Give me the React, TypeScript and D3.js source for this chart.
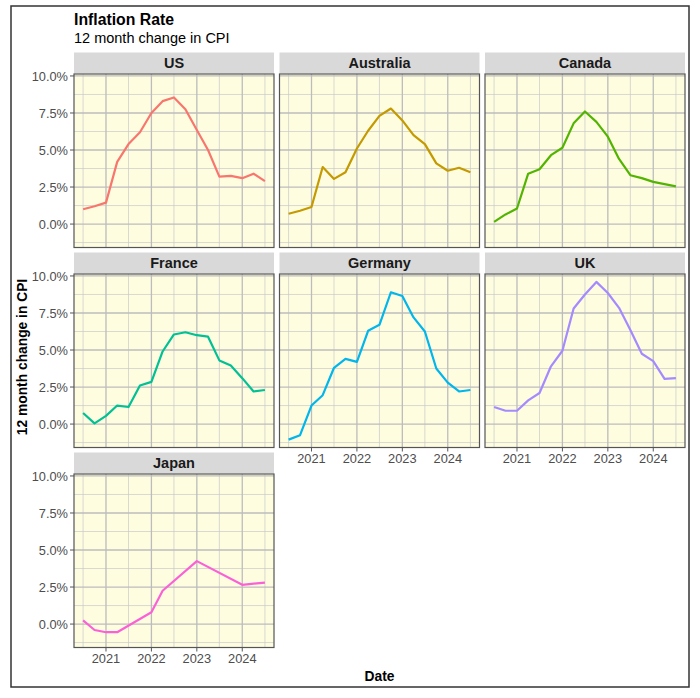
import React from "react";
import * as d3 from "d3";

// ---- Data (quarterly 12-month CPI change, %) ----
const countries = ["US", "Australia", "Canada", "France", "Germany", "UK", "Japan"];
const colors = ["#F8766D", "#C49A00", "#53B400", "#00C094", "#00B6EB", "#A58AFF", "#FB61D7"];

const quarterDates = [
  "2020-07-01", "2020-10-01", "2021-01-01", "2021-04-01", "2021-07-01", "2021-10-01",
  "2022-01-01", "2022-04-01", "2022-07-01", "2022-10-01", "2023-01-01", "2023-04-01",
  "2023-07-01", "2023-10-01", "2024-01-01", "2024-04-01", "2024-07-01",
];
const japanDates = [
  "2020-07-01", "2020-10-01", "2021-01-01", "2021-04-01", "2022-01-01", "2022-04-01",
  "2023-01-01", "2024-01-01", "2024-07-01",
];

const usValues = [1.0, 1.2, 1.45, 4.2, 5.4, 6.2, 7.5, 8.3, 8.55, 7.75, 6.35, 5.0, 3.2, 3.25, 3.1, 3.4, 2.9];
const australiaValues = [0.7, 0.9, 1.15, 3.85, 3.05, 3.5, 5.1, 6.3, 7.3, 7.8, 7.0, 6.0, 5.4, 4.1, 3.6, 3.8, 3.5];
const canadaValues = [0.15, 0.65, 1.05, 3.4, 3.7, 4.65, 5.15, 6.8, 7.6, 6.9, 5.9, 4.4, 3.3, 3.1, 2.85, 2.7, 2.55];
const franceValues = [0.75, 0.05, 0.55, 1.25, 1.15, 2.6, 2.85, 4.9, 6.05, 6.2, 6.0, 5.9, 4.3, 3.95, 3.1, 2.2, 2.3];
const germanyValues = [-1.05, -0.75, 1.25, 1.95, 3.8, 4.4, 4.2, 6.3, 6.7, 8.9, 8.65, 7.2, 6.25, 3.75, 2.8, 2.2, 2.3];
const ukValues = [1.15, 0.9, 0.9, 1.6, 2.1, 3.9, 4.95, 7.8, 8.75, 9.6, 8.85, 7.85, 6.35, 4.75, 4.25, 3.05, 3.1];
const japanValues = [0.25, -0.4, -0.55, -0.55, 0.8, 2.25, 4.25, 2.65, 2.8];

const yTickValues = [0, 2.5, 5, 7.5, 10];
const yTickLabels = ["0.0%", "2.5%", "5.0%", "7.5%", "10.0%"];
const xTickYears = [2021, 2022, 2023, 2024];

const titleText = "Inflation Rate";
const subtitleText = "12 month change in CPI";
const yAxisTitle = "12 month change in CPI";
const xAxisTitle = "Date";

const seriesValues = [usValues, australiaValues, canadaValues, franceValues, germanyValues, ukValues, japanValues];
const seriesDates = [quarterDates, quarterDates, quarterDates, quarterDates, quarterDates, quarterDates, japanDates];

// ---- Layout ----
const W = 700;
const H = 698;
const colX = [74, 279.5, 485];
const rowY = [74, 274, 474];
const PW = 200;
const PH = 173.5;
const STRIP_H = 21;
const FONT = "'Liberation Sans', Arial, Helvetica, sans-serif";

export default function App() {
  const parse = d3.timeParse("%Y-%m-%d");
  const allDates = quarterDates.map((d) => parse(d) as Date);
  const dMin = d3.min(allDates) as Date;
  const dMax = d3.max(allDates) as Date;
  const span = dMax.getTime() - dMin.getTime();
  const xDomain = [new Date(dMin.getTime() - 0.05 * span), new Date(dMax.getTime() + 0.05 * span)];

  const allVals = seriesValues.flat();
  const vMin = d3.min(allVals) as number;
  const vMax = d3.max(allVals) as number;
  const vSpan = vMax - vMin;
  const yDomain = [vMin - 0.05 * vSpan, vMax + 0.05 * vSpan];

  const x = d3.scaleTime().domain(xDomain).range([0, PW]);
  const y = d3.scaleLinear().domain(yDomain).range([PH, 0]);

  const majorX = xTickYears.map((yr) => new Date(yr, 0, 1));
  const minorX = [2020, 2021, 2022, 2023, 2024].map((yr) => new Date(yr, 6, 1)).filter((d) => x(d) >= 0 && x(d) <= PW);
  const minorY = yTickValues.slice(0, -1).map((v, i) => (v + yTickValues[i + 1]) / 2).concat([yTickValues[0] - 1.25]).filter((v) => y(v) >= 0 && y(v) <= PH);

  const line = d3
    .line<[Date, number]>()
    .x((d) => x(d[0]))
    .y((d) => y(d[1]));

  const panels = countries.map((c, i) => {
    const col = i % 3;
    const row = Math.floor(i / 3);
    const px = colX[col];
    const py = rowY[row];
    const data: [Date, number][] = seriesDates[i].map((d, j) => [parse(d) as Date, seriesValues[i][j]]);
    const showY = col === 0;
    // x labels shown if no panel beneath
    const showX = i + 3 >= countries.length;
    return (
      <g key={c} transform={`translate(${px},${py})`}>
        <rect x={0} y={-STRIP_H - 0.5} width={PW} height={STRIP_H} fill="#d9d9d9" />
        <text x={PW / 2} y={-STRIP_H / 2 - 0.5} dy="0.36em" textAnchor="middle" fontFamily={FONT} fontWeight="bold" fontSize={14.5} fill="#1a1a1a">
          {c}
        </text>
        <rect x={0} y={0} width={PW} height={PH} fill="#fefde0" />
        {minorX.map((d, k) => (
          <line key={"mx" + k} x1={x(d)} x2={x(d)} y1={0} y2={PH} stroke="#c8c8c8" strokeWidth={0.7} />
        ))}
        {minorY.map((v, k) => (
          <line key={"my" + k} x1={0} x2={PW} y1={y(v)} y2={y(v)} stroke="#c8c8c8" strokeWidth={0.7} />
        ))}
        {majorX.map((d, k) => (
          <line key={"Mx" + k} x1={x(d)} x2={x(d)} y1={0} y2={PH} stroke="#bcbcbc" strokeWidth={1.3} />
        ))}
        {yTickValues.map((v, k) => (
          <line key={"My" + k} x1={0} x2={PW} y1={y(v)} y2={y(v)} stroke="#bcbcbc" strokeWidth={1.3} />
        ))}
        <path d={line(data) || ""} fill="none" stroke={colors[i]} strokeWidth={2.2} strokeLinejoin="round" />
        <rect x={0} y={0} width={PW} height={PH} fill="none" stroke="#555" strokeWidth={1.2} />
        {showY &&
          yTickValues.map((v, k) => (
            <g key={"yt" + k} transform={`translate(0,${y(v)})`}>
              <line x1={-4} x2={0} stroke="#555" strokeWidth={1} />
              <text x={-6} dy="0.36em" textAnchor="end" fontFamily={FONT} fontSize={12.8} fill="#4d4d4d">
                {yTickLabels[k]}
              </text>
            </g>
          ))}
        {showX &&
          majorX.map((d, k) => (
            <g key={"xt" + k} transform={`translate(${x(d)},${PH})`}>
              <line y1={0} y2={4} stroke="#555" strokeWidth={1} />
              <text y={15.5} textAnchor="middle" fontFamily={FONT} fontSize={12.8} fill="#4d4d4d">
                {xTickYears[k]}
              </text>
            </g>
          ))}
      </g>
    );
  });

  return (
    <svg width={W} height={H} style={{ position: "absolute", left: 0, top: 0, background: "#fff" }}>
      <rect x={0} y={0} width={W} height={H} fill="#fff" />
      <rect x={11} y={6} width={678} height={681} fill="none" stroke="#333" strokeWidth={1.5} />
      <text x={74} y={24.5} fontFamily={FONT} fontWeight="bold" fontSize={15.8} fill="#000">
        {titleText}
      </text>
      <text x={74} y={43} fontFamily={FONT} fontSize={14.5} fill="#000">
        {subtitleText}
      </text>
      {panels}
      <text
        transform={`translate(27,357) rotate(-90)`}
        textAnchor="middle"
        fontFamily={FONT}
        fontWeight="bold"
        fontSize={13.8}
        fill="#000"
      >
        {yAxisTitle}
      </text>
      <text x={379.5} y={681} textAnchor="middle" fontFamily={FONT} fontWeight="bold" fontSize={13.8} fill="#000">
        {xAxisTitle}
      </text>
    </svg>
  );
}
